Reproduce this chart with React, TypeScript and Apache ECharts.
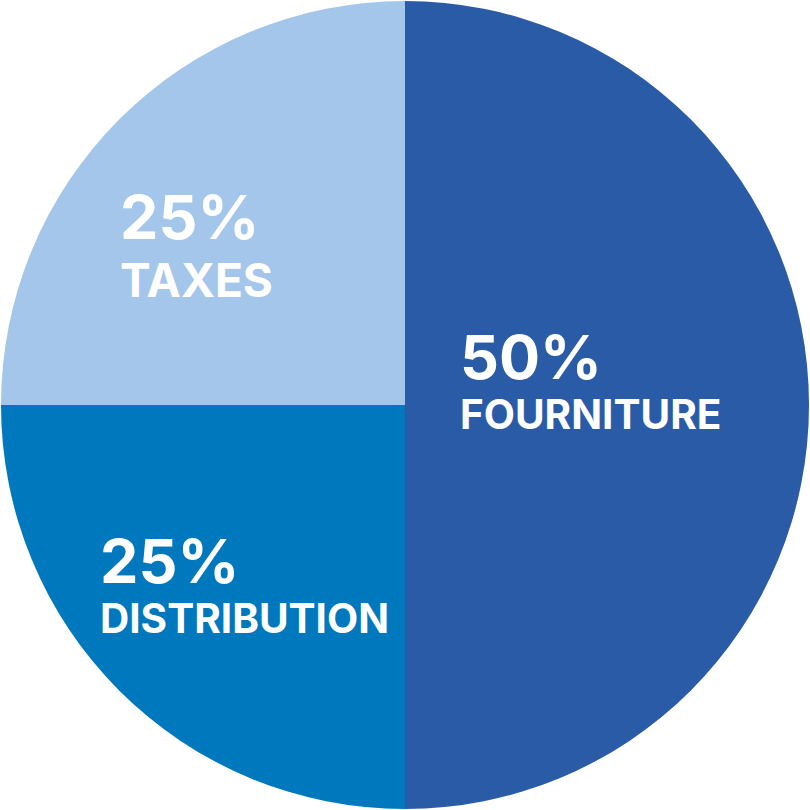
import React, { useEffect, useRef } from "react";
import * as echarts from "echarts";

const categories = ["FOURNITURE", "DISTRIBUTION", "TAXES"];
const values = [50, 25, 25];
const colors = ["#2A5BA7", "#0078BE", "#A3C6EA"];
const labelPos = [
  [460, 324],
  [100, 528],
  [120, 184],
];
const nameFontSize = [40.5, 40.5, 46];
const nameLineHeight = [48, 48, 60];

export default function App() {
  const ref = useRef<HTMLDivElement>(null);
  useEffect(() => {
    if (!ref.current) return;
    const chart = echarts.init(ref.current, null, { renderer: "svg" });
    chart.setOption({
      animation: false,
      backgroundColor: "#ffffff",
      series: [
        {
          type: "pie",
          center: ["50%", "50%"],
          radius: 404,
          startAngle: 90,
          clockwise: true,
          data: categories.map((c, i) => ({
            name: c,
            value: values[i],
            itemStyle: { color: colors[i] },
            label: {
              rich: {
                p: {
                  fontFamily: "Inter",
                  fontWeight: 700,
                  fontSize: 61,
                  lineHeight: 66,
                  color: "#ffffff",
                  align: "left",
                },
                n: {
                  fontFamily: "Inter",
                  fontWeight: 700,
                  fontSize: nameFontSize[i],
                  lineHeight: nameLineHeight[i],
                  color: "#ffffff",
                  align: "left",
                },
              },
            },
          })),
          itemStyle: { borderWidth: 0 },
          emphasis: { disabled: true },
          label: {
            show: true,
            position: "inside",
            formatter: (p: any) => `{p|${p.value}%}\n{n|${p.name}}`,
            color: "#ffffff",
            align: "left",
          },
          labelLine: { show: false },
          labelLayout: (params: any) => ({
            x: labelPos[params.dataIndex][0],
            y: labelPos[params.dataIndex][1],
            align: "left",
            verticalAlign: "top",
          }),
        },
      ],
    });
    return () => chart.dispose();
  }, []);
  return (
    <div
      ref={ref}
      style={{ position: "absolute", left: 0, top: 0, width: 810, height: 810 }}
    />
  );
}
